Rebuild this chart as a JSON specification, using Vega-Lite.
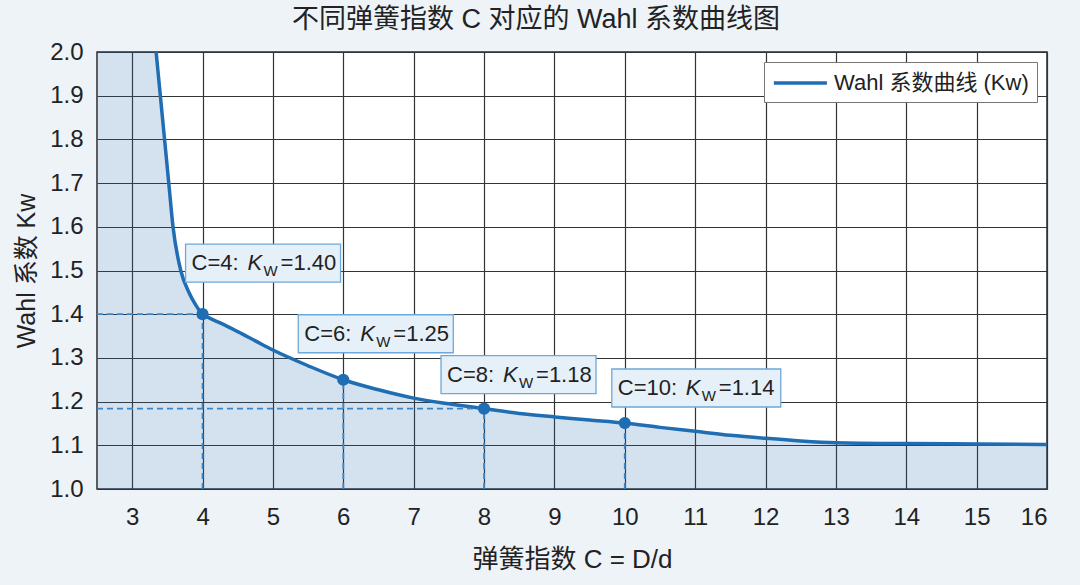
{
  "$schema": "https://vega.github.io/schema/vega-lite/v6.json",
  "width": 950,
  "height": 437,
  "autosize": {"type": "none"},
  "padding": {"left": 97, "top": 52, "right": 33, "bottom": 96},
  "background": "#eef3f8",
  "config": {
    "view": {"fill": "white", "stroke": "#2a2a2a", "strokeWidth": 1.5},
    "font": "Liberation Sans, Noto Sans CJK SC"
  },
  "title": {
    "text": "不同弹簧指数 C 对应的 Wahl 系数曲线图",
    "fontSize": 27,
    "fontWeight": "normal",
    "color": "#222",
    "offset": 6,
    "dx": -36
  },
  "datasets": {
    "curve": [
      {"C": 2.5, "K": 2.0},
      {"C": 3.34, "K": 2.0},
      {"C": 3.4, "K": 1.9},
      {"C": 3.46, "K": 1.8},
      {"C": 3.52, "K": 1.7},
      {"C": 3.58, "K": 1.6},
      {"C": 3.69, "K": 1.5},
      {"C": 3.8, "K": 1.452},
      {"C": 3.9, "K": 1.422},
      {"C": 4.0, "K": 1.4},
      {"C": 4.1, "K": 1.391},
      {"C": 4.25, "K": 1.38},
      {"C": 4.5, "K": 1.36},
      {"C": 4.75, "K": 1.339},
      {"C": 5.0, "K": 1.318},
      {"C": 5.5, "K": 1.282},
      {"C": 6.0, "K": 1.25},
      {"C": 6.5, "K": 1.227},
      {"C": 7.0, "K": 1.208},
      {"C": 7.5, "K": 1.195},
      {"C": 8.0, "K": 1.184},
      {"C": 8.5, "K": 1.173},
      {"C": 9.0, "K": 1.165},
      {"C": 9.5, "K": 1.158},
      {"C": 10.0, "K": 1.151},
      {"C": 10.5, "K": 1.141},
      {"C": 11.0, "K": 1.132},
      {"C": 11.5, "K": 1.123},
      {"C": 12.0, "K": 1.116},
      {"C": 12.5, "K": 1.11},
      {"C": 13.0, "K": 1.106},
      {"C": 14.0, "K": 1.104},
      {"C": 15.0, "K": 1.103},
      {"C": 16.0, "K": 1.102}
    ],
    "points": [
      {"C": 4, "K": 1.4, "pre": "C=4: ", "post": "=1.40", "h": 1},
      {"C": 6, "K": 1.25, "pre": "C=6: ", "post": "=1.25", "h": 0},
      {"C": 8, "K": 1.184, "pre": "C=8: ", "post": "=1.18", "h": 1},
      {"C": 10, "K": 1.151, "pre": "C=10: ", "post": "=1.14", "h": 0}
    ]
  },
  "encoding": {
    "x": {
      "field": "C",
      "type": "quantitative",
      "scale": {"domain": [2.5, 16], "nice": false, "zero": false},
      "axis": {
        "values": [3, 4, 5, 6, 7, 8, 9, 10, 11, 12, 13, 14, 15, 16],
        "grid": true,
        "gridColor": "#333",
        "gridWidth": 1.2,
        "gridOpacity": 1,
        "domain": false,
        "ticks": false,
        "tickSize": 0,
        "labelPadding": 16,
        "labelFontSize": 24,
        "labelColor": "#222",
        "title": "弹簧指数 C = D/d",
        "titleFontSize": 26,
        "titleFontWeight": "normal",
        "titleColor": "#222",
        "titlePadding": 17
      }
    },
    "y": {
      "field": "K",
      "type": "quantitative",
      "scale": {"domain": [1.0, 2.0], "nice": false, "zero": false},
      "axis": {
        "values": [1.0, 1.1, 1.2, 1.3, 1.4, 1.5, 1.6, 1.7, 1.8, 1.9, 2.0],
        "format": ".1f",
        "grid": true,
        "gridColor": "#333",
        "gridWidth": 1.2,
        "gridOpacity": 1,
        "domain": false,
        "ticks": false,
        "tickSize": 0,
        "labelPadding": 14,
        "labelFontSize": 24,
        "labelColor": "#222",
        "title": "Wahl 系数 Kᴡ",
        "titleFontSize": 25,
        "titleFontWeight": "normal",
        "titleColor": "#222",
        "titlePadding": 10
      }
    }
  },
  "layer": [
    {
      "data": {"name": "curve"},
      "mark": {"type": "area", "interpolate": "monotone", "color": "#2a6fb5", "opacity": 0.2},
      "encoding": {"y2": {"datum": 1.0}}
    },
    {
      "data": {"name": "curve"},
      "transform": [{"filter": "datum.C >= 3.3"}],
      "mark": {"type": "line", "interpolate": "monotone", "strokeWidth": 3.5},
      "encoding": {
        "color": {
          "datum": "Wahl 系数曲线 (Kᴡ)",
          "type": "nominal",
          "scale": {"range": ["#1f6db3"]},
          "legend": {
            "title": null,
            "orient": "top-right",
            "offset": 10,
            "padding": 8,
            "fillColor": "white",
            "strokeColor": "#777",
            "symbolType": "M-1,0H3.75",
            "symbolSize": 500,
            "symbolStrokeWidth": 3.5,
            "labelFontSize": 22,
            "labelColor": "#222",
            "labelOffset": 36,
            "labelLimit": 400
          }
        }
      }
    },
    {
      "data": {"name": "points"},
      "transform": [{"filter": "datum.h == 1"}],
      "mark": {"type": "rule", "color": "#3b86c8", "strokeWidth": 1.8, "strokeDash": [6, 4]},
      "encoding": {"x": {"datum": 2.5, "type": "quantitative"}, "x2": {"field": "C"}}
    },
    {
      "data": {"name": "points"},
      "mark": {"type": "rule", "color": "#3b86c8", "strokeWidth": 1.8, "strokeDash": [6, 4]},
      "encoding": {"y": {"datum": 1.0, "type": "quantitative"}, "y2": {"field": "K"}}
    },
    {
      "data": {"name": "points"},
      "mark": {"type": "circle", "size": 150, "color": "#1f6db3", "opacity": 1}
    },
    {
      "data": {"name": "points"},
      "mark": {
        "type": "rect",
        "fill": "#e5f0f9",
        "stroke": "#6fa8d6",
        "strokeWidth": 1.3,
        "xOffset": {"expr": "{'4': -17, '6': -45, '8': -43, '10': -13}[datum.C]"},
        "x2Offset": {"expr": "{'4': 138, '6': 110, '8': 112, '10': 156}[datum.C]"},
        "yOffset": {"expr": "{'4': -70, '6': -65, '8': -53, '10': -54}[datum.C]"},
        "y2Offset": {"expr": "{'4': -32, '6': -27, '8': -15, '10': -16}[datum.C]"}
      },
      "encoding": {"x2": {"field": "C"}, "y2": {"field": "K"}}
    },
    {
      "data": {"name": "points"},
      "mark": {
        "type": "text",
        "align": "left",
        "baseline": "alphabetic",
        "fontSize": 22,
        "color": "#222",
        "dx": {"expr": "{'4': -11, '6': -39, '8': -37, '10': -7}[datum.C]"},
        "dy": {"expr": "{'4': -44, '6': -39, '8': -27, '10': -28}[datum.C]"}
      },
      "encoding": {"text": {"field": "pre"}}
    },
    {
      "data": {"name": "points"},
      "mark": {
        "type": "text",
        "align": "left",
        "baseline": "alphabetic",
        "fontSize": 22,
        "fontStyle": "italic",
        "color": "#222",
        "text": "K",
        "dx": {"expr": "{'4': 45, '6': 17, '8': 19, '10': 61}[datum.C]"},
        "dy": {"expr": "{'4': -44, '6': -39, '8': -27, '10': -28}[datum.C]"}
      }
    },
    {
      "data": {"name": "points"},
      "mark": {
        "type": "text",
        "align": "left",
        "baseline": "alphabetic",
        "fontSize": 15,
        "color": "#222",
        "text": "W",
        "dx": {"expr": "{'4': 61, '6': 33, '8': 35, '10': 77}[datum.C]"},
        "dy": {"expr": "{'4': -38, '6': -33, '8': -21, '10': -22}[datum.C]"}
      }
    },
    {
      "data": {"name": "points"},
      "mark": {
        "type": "text",
        "align": "left",
        "baseline": "alphabetic",
        "fontSize": 22,
        "color": "#222",
        "dx": {"expr": "{'4': 78, '6': 50, '8': 52, '10': 94}[datum.C]"},
        "dy": {"expr": "{'4': -44, '6': -39, '8': -27, '10': -28}[datum.C]"}
      }
      ,
      "encoding": {"text": {"field": "post"}}
    }
  ]
}
